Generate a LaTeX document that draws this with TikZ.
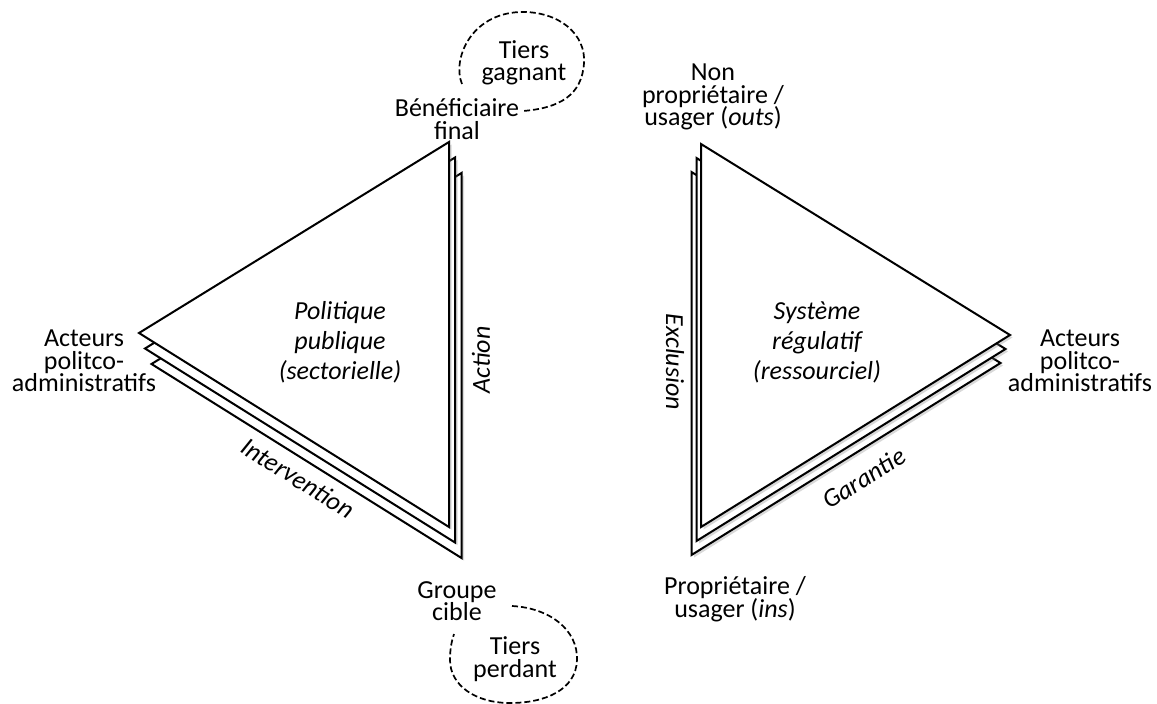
\documentclass[tikz,border=0pt]{standalone}
\usepackage{fontspec}
\setmainfont{Carlito}
\usetikzlibrary{shadows}
\lineskiplimit=-50pt
\begin{document}
\begin{tikzpicture}[x=1pt,y=-1pt,
  sheet/.style={draw=black, line width=2pt, fill=white, line join=miter,
    drop shadow={shadow xshift=2.5pt, shadow yshift=-2.5pt, opacity=0.3}},
  lbl/.style={font={\fontsize{26}{22.5}\selectfont},
    align=center, inner sep=0pt},
  inner/.style={font={\fontsize{26}{30}\selectfont\itshape},
    align=center, inner sep=0pt},
  side/.style={font={\fontsize{26}{30}\selectfont\itshape}, inner sep=0pt},
  blob/.style={draw=black, line width=1.7pt, dash pattern=on 6pt off 3pt}]
\useasboundingbox (0,0) rectangle (1157,704);

% corners of the front sheet of each triangle
\coordinate (L1) at (139,333);
\coordinate (L2) at (449,142);
\coordinate (L3) at (449,527);
\coordinate (R1) at (701,144);
\coordinate (R2) at (1010,335);
\coordinate (R3) at (701,527);

% stacked sheets, back ones first
\foreach \dx/\dy in {12.5/31, 6/15.5, 0/0} {
  \draw[sheet] ([shift={(\dx,\dy)}]L1) -- ([shift={(\dx,\dy)}]L2)
    -- ([shift={(\dx,\dy)}]L3) -- cycle;
}
\foreach \dx/\dy in {-9.5/28, -4.5/14, 0/0} {
  \draw[sheet] ([shift={(\dx,\dy)}]R1) -- ([shift={(\dx,\dy)}]R2)
    -- ([shift={(\dx,\dy)}]R3) -- cycle;
}

% corner labels
\node[lbl] (benef) at (457,119) {Bénéficiaire\\final};
\node[lbl] (groupe) at (457,601) {Groupe\\cible};
\node[lbl] (acteursL) at (84,361) {Acteurs\\politco-\\administratifs};
\node[lbl] (acteursR) at (1080,361) {Acteurs\\politco-\\administratifs};
\node[lbl] (outs) at (713,97) {Non\\propriétaire /\\usager (\textit{outs})};
\node[lbl] (ins) at (735,599) {Propriétaire /\\usager (\textit{ins})};

% third parties
\node[lbl] (gagnant) at (524,63) {Tiers\\gagnant};
\node[lbl] (perdant) at (515,659) {Tiers\\perdant};

% titles inside the triangles
\node[inner] (pp) at (340,342) {Politique\\publique\\(sectorielle)};
\node[inner] (sr) at (817,342) {Système\\régulatif\\(ressourciel)};

% side labels
\node[side, rotate=90] (action) at (481,360) {Action};
\node[side, rotate=-90] (exclusion) at (675,362) {Exclusion};
\node[side, rotate=-32] (intervention) at (298,478) {Intervention};
\node[side, rotate=32] (garantie) at (864,478) {Garantie};

% dashed bubbles
\draw[blob] (462,84) .. controls (452,60) and (470,14) .. (520,12)
  .. controls (560,11) and (586,35) .. (584,63)
  .. controls (582,95) and (560,108) .. (523,111);
\draw[blob] (512,606) .. controls (550,608) and (578,630) .. (577,660)
  .. controls (576,690) and (545,703) .. (510,703)
  .. controls (475,703) and (450,685) .. (450,660)
  .. controls (450,648) and (452,640) .. (454,634);
\end{tikzpicture}
\end{document}
